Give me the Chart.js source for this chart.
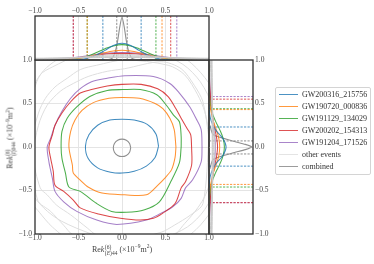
<!DOCTYPE html>
<html><head><meta charset="utf-8">
<script src="https://cdn.jsdelivr.net/npm/chart.js@4.4.1/dist/chart.umd.min.js"></script>
<style>
html,body{margin:0;padding:0;background:#fff;width:374px;height:264px;overflow:hidden;font-family:"Liberation Serif",serif;}
canvas{position:absolute;left:0;top:0;}
#legend{position:absolute;left:275px;top:87px;width:96px;height:88px;border:1px solid #d4d4d4;border-radius:2px;box-sizing:border-box;background:transparent;will-change:transform;}
.li{position:absolute;left:0;width:100%;height:12px;font-size:8px;color:#333;line-height:12px;white-space:nowrap;}
.sw{position:absolute;left:3px;width:19px;top:5px;height:1.3px;}
.tx{position:absolute;left:26px;top:0;color:#333;}
.ttl{position:absolute;white-space:nowrap;font-size:8px;color:#444;line-height:10px;will-change:transform;}
.ss{display:inline-flex;flex-direction:column;vertical-align:middle;font-size:5.5px;line-height:5.5px;margin-left:0.5px;}
sup{font-size:5.5px;line-height:0;}
</style>
</head><body>
<canvas id="cMain" width="374" height="264"></canvas>
<canvas id="cTop" width="374" height="264"></canvas>
<canvas id="cRight" width="374" height="264"></canvas>
<div id="legend"></div>
<div class="ttl" id="xt" style="left:122px;top:250px;transform:translate(-50%,-50%);">Re<i>k</i><span class="ss"><span>(6)</span><span>(<i>E</i>)44</span></span> (×10<sup>−9</sup>m<sup>2</sup>)</div>
<div class="ttl" id="yt" style="left:11px;top:138px;transform:translate(-50%,-50%) rotate(-90deg);">Re<i>k</i><span class="ss"><span>(6)</span><span>(<i>I</i>)044</span></span> (×10<sup>−9</sup>m<sup>2</sup>)</div>
<script>
// ---------------- DATA ----------------
const eventNames  = ['GW200316_215756','GW190720_000836','GW191129_134029','GW200202_154313','GW191204_171526'];
const eventColors = ['#1f77b4','#ff7f0e','#2ca02c','#d62728','#9467bd'];
const otherLabel = 'other events', combinedLabel = 'combined';
const otherColor = '#dedede', combinedColor = '#8f8f8f';
const tickValues = [-1.0,-0.5,0.0,0.5,1.0];

// 90% credible contours in the (x, y) plane, points read around each loop
const contourBlue = [[0.42,0.01],[0.39,0.15],[0.29,0.26],[0.14,0.31],[0.0,0.32],[-0.14,0.31],[-0.28,0.25],[-0.38,0.14],[-0.42,0.01],[-0.39,-0.13],[-0.28,-0.24],[-0.13,-0.29],[0.0,-0.30],[0.14,-0.28],[0.28,-0.22],[0.38,-0.12]];
const contourOrange = [[0.62,0.0],[0.60,0.20],[0.55,0.33],[0.47,0.44],[0.38,0.50],[0.20,0.56],[0.0,0.57],[-0.15,0.56],[-0.33,0.51],[-0.46,0.42],[-0.54,0.31],[-0.59,0.18],[-0.61,0.0],[-0.57,-0.21],[-0.56,-0.30],[-0.48,-0.38],[-0.39,-0.46],[-0.23,-0.53],[0.03,-0.55],[0.28,-0.55],[0.41,-0.44],[0.49,-0.36],[0.57,-0.26],[0.61,-0.12]];
const contourGreen = [[0.68,0.0],[0.68,0.12],[0.66,0.29],[0.59,0.37],[0.51,0.48],[0.40,0.60],[0.21,0.66],[0.01,0.66],[-0.17,0.65],[-0.37,0.58],[-0.52,0.46],[-0.63,0.33],[-0.69,0.18],[-0.70,0.0],[-0.69,-0.13],[-0.65,-0.30],[-0.61,-0.46],[-0.48,-0.51],[-0.29,-0.65],[-0.12,-0.74],[0.05,-0.75],[0.26,-0.72],[0.43,-0.63],[0.56,-0.40],[0.66,-0.18]];
const contourRed = [[0.80,0.0],[0.79,0.14],[0.75,0.21],[0.68,0.33],[0.62,0.44],[0.53,0.58],[0.41,0.67],[0.22,0.72],[0.0,0.72],[-0.17,0.70],[-0.35,0.66],[-0.48,0.62],[-0.59,0.52],[-0.69,0.39],[-0.77,0.25],[-0.80,0.14],[-0.84,0.0],[-0.82,-0.13],[-0.79,-0.28],[-0.77,-0.44],[-0.67,-0.51],[-0.56,-0.61],[-0.48,-0.70],[-0.27,-0.77],[-0.02,-0.82],[0.21,-0.84],[0.36,-0.82],[0.47,-0.76],[0.61,-0.65],[0.68,-0.47],[0.73,-0.40],[0.80,-0.21]];
const contourPurple = [[0.92,0.0],[0.91,0.20],[0.85,0.33],[0.78,0.46],[0.66,0.62],[0.55,0.73],[0.36,0.81],[0.03,0.82],[-0.17,0.79],[-0.35,0.75],[-0.48,0.67],[-0.59,0.56],[-0.69,0.41],[-0.77,0.25],[-0.82,0.10],[-0.86,0.0],[-0.84,-0.17],[-0.80,-0.36],[-0.77,-0.51],[-0.67,-0.63],[-0.52,-0.74],[-0.29,-0.84],[-0.06,-0.89],[0.28,-0.84],[0.45,-0.76],[0.58,-0.69],[0.68,-0.59],[0.73,-0.47],[0.81,-0.38],[0.91,-0.17]];
const contourCombined = [[0.10,-0.01],[0.087,0.04],[0.05,0.077],[0.0,0.09],[-0.05,0.077],[-0.087,0.04],[-0.10,-0.01],[-0.087,-0.06],[-0.05,-0.097],[0.0,-0.11],[0.05,-0.097],[0.087,-0.06]];
const contourOtherA = [[1.00,0.10],[0.93,0.52],[0.83,0.71],[0.68,0.90],[0.45,0.98],[0.03,0.90],[-0.17,0.87],[-0.39,0.81],[-0.56,0.73],[-0.71,0.64],[-0.86,0.48],[-0.96,0.25],[-1.02,-0.10],[-0.94,-0.47],[-0.86,-0.55],[-0.75,-0.67],[-0.59,-0.78],[-0.40,-0.93],[-0.29,-1.01],[0.10,-1.05],[0.45,-0.98],[0.60,-0.90],[0.79,-0.78],[0.93,-0.65]];
const contourOtherB = [[1.04,0.0],[1.00,0.18],[0.95,0.41],[0.87,0.60],[0.72,0.83],[0.53,0.94],[0.03,1.00],[-0.29,0.94],[-0.48,0.89],[-0.63,0.79],[-0.77,0.69],[-0.88,0.56],[-0.96,0.39],[-1.05,0.0],[-0.97,-0.61],[-0.82,-0.74],[-0.67,-0.90],[-0.56,-1.01],[-0.10,-1.12],[0.53,-1.07],[0.72,-0.88],[0.87,-0.70],[0.96,-0.55],[1.02,-0.36]];
const contourOtherC = [[1.15,0.0],[1.05,0.45],[0.90,0.75],[0.70,0.95],[0.40,1.08],[0.0,1.12],[-0.50,1.05],[-0.80,0.92],[-0.94,0.83],[-1.05,0.60],[-1.15,0.0],[-1.05,-0.50],[-0.90,-0.70],[-0.70,-0.85],[-0.35,-1.00],[0.0,-1.10],[0.45,-1.05],[0.75,-0.92],[0.95,-0.72],[1.10,-0.40]];
const contourOtherD = [[1.25,0.0],[1.10,0.55],[0.95,0.80],[0.75,1.00],[0.45,1.15],[0.0,1.20],[-0.45,1.15],[-0.75,1.00],[-0.90,0.88],[-0.98,0.75],[-1.20,0.0],[-1.10,-0.55],[-0.95,-0.75],[-0.80,-0.92],[-0.55,-1.10],[0.0,-1.20],[0.55,-1.15],[0.85,-0.95],[1.05,-0.70],[1.20,-0.40]];
const eventContours = [contourBlue, contourOrange, contourGreen, contourRed, contourPurple];
const otherContours = [contourOtherA, contourOtherB, contourOtherC, contourOtherD];

// marginal densities (normalised to the combined peak) on a common grid
const margGrid = [-1.0,-0.8,-0.6,-0.5,-0.4,-0.3,-0.2,-0.1,0.0,0.1,0.2,0.3,0.4,0.5,0.6,0.8,1.0];
const topBlue   = [0,0,0,0.01,0.04,0.11,0.22,0.34,0.39,0.34,0.22,0.11,0.04,0.01,0,0,0];
const topOrange = [0,0,0.01,0.03,0.07,0.12,0.17,0.21,0.23,0.21,0.17,0.12,0.07,0.03,0.01,0,0];
const topGreen  = [0,0,0.015,0.04,0.09,0.17,0.26,0.33,0.36,0.33,0.26,0.17,0.09,0.04,0.015,0,0];
const topRed    = [0,0.01,0.034,0.055,0.08,0.108,0.135,0.15,0.155,0.15,0.135,0.108,0.08,0.055,0.034,0.01,0];
const topPurple = [0.003,0.015,0.045,0.07,0.10,0.13,0.155,0.17,0.175,0.17,0.155,0.13,0.10,0.07,0.045,0.015,0.003];
const rightBlue   = [0,0,0,0,0.01,0.05,0.15,0.32,0.40,0.32,0.15,0.05,0.01,0,0,0,0];
const rightOrange = [0,0,0.005,0.02,0.05,0.10,0.17,0.23,0.25,0.23,0.17,0.10,0.05,0.02,0.005,0,0];
const rightGreen  = [0,0,0.01,0.03,0.07,0.15,0.25,0.33,0.36,0.33,0.25,0.15,0.07,0.03,0.01,0,0];
const rightRed    = [0,0.01,0.03,0.05,0.07,0.10,0.14,0.18,0.20,0.18,0.14,0.10,0.07,0.05,0.03,0.01,0];
const rightPurple = [0.005,0.015,0.035,0.05,0.07,0.09,0.11,0.14,0.15,0.14,0.11,0.09,0.07,0.05,0.035,0.015,0.005];
const topOthers = [
  [0.02,0.03,0.05,0.06,0.07,0.08,0.09,0.095,0.10,0.095,0.09,0.08,0.07,0.06,0.05,0.03,0.02],
  [0.03,0.04,0.05,0.055,0.06,0.065,0.07,0.072,0.073,0.072,0.07,0.065,0.06,0.055,0.05,0.04,0.03],
  [0.01,0.02,0.04,0.06,0.08,0.10,0.115,0.125,0.13,0.125,0.115,0.10,0.08,0.06,0.04,0.02,0.01],
  [0.04,0.045,0.05,0.05,0.055,0.055,0.06,0.06,0.06,0.06,0.06,0.055,0.055,0.05,0.05,0.045,0.04]
];
const rightOthers = [
  [0.05,0.06,0.07,0.075,0.08,0.085,0.09,0.095,0.10,0.095,0.09,0.085,0.08,0.075,0.07,0.06,0.05],
  [0.07,0.075,0.08,0.08,0.085,0.085,0.09,0.09,0.09,0.09,0.09,0.085,0.085,0.08,0.08,0.075,0.07],
  [0.03,0.045,0.06,0.07,0.085,0.10,0.115,0.13,0.14,0.13,0.115,0.10,0.085,0.07,0.06,0.045,0.03],
  [0.06,0.065,0.065,0.07,0.07,0.07,0.075,0.075,0.075,0.075,0.075,0.07,0.07,0.07,0.065,0.065,0.06]
];
const combGridTop = [-0.2,-0.12,-0.08,-0.05,-0.025,0.0,0.025,0.05,0.08,0.12,0.2];
const combTop     = [0,0.03,0.18,0.45,0.78,1.0,0.78,0.45,0.18,0.03,0];
const combGridRight = [-0.25,-0.14,-0.07,-0.03,0.0,0.03,0.07,0.14,0.25];
const combRight     = [0.02,0.10,0.55,0.85,1.0,0.85,0.55,0.10,0.02];
// 90% one-dimensional bounds
const topLo   = [-0.22,-0.40,-0.40,-0.56,-0.56];
const topHi   = [0.22,0.46,0.39,0.56,0.63];
const rightLo = [-0.22,-0.43,-0.46,-0.64,-0.64];
const rightHi = [0.23,0.43,0.44,0.55,0.58];
const combTopBounds   = [-0.06,0.06];
const combRightBounds = [-0.08,0.07];

// ---------------- CHARTS ----------------
const FONT = {family:"'Liberation Serif', serif", size:7.5};
const TICKC = '#444';
const fmt = v => (v < 0 ? '\u2212' : '') + Math.abs(v).toFixed(1);
const gridC = c => (Math.abs(c.tick.value) > 0.99 ? 'rgba(0,0,0,0)' : '#e4e4e4');
const frame = {id:'frame', afterDraw(chart){
  const {ctx, chartArea:a} = chart; ctx.save();
  ctx.strokeStyle = '#2e2e2e'; ctx.lineWidth = 1.3;
  ctx.strokeRect(a.left, a.top, a.right - a.left, a.bottom - a.top); ctx.restore(); }};
const alpha = (hex, a) => { const n = parseInt(hex.slice(1),16); return `rgba(${n>>16},${(n>>8)&255},${n&255},${a})`; };
const ds = (pts, color, w, extra) => Object.assign({data: pts, borderColor: color, borderWidth: w, pointRadius: 0, showLine: true, fill: false, tension: 0.3}, extra || {});
const loop = c => c.concat([c[0]]).map(p => ({x: p[0], y: p[1]}));
const valScale = (pos, fitKey, fitVal, pad) => ({
  type:'linear', position: pos, min:-1, max:1,
  ticks:{stepSize:0.5, callback: fmt, font: FONT, color: TICKC, padding: pad, maxRotation:0, autoSkip:false},
  grid:{color: gridC, drawTicks:false, lineWidth:1}, border:{display:false},
  afterFit: s => { s[fitKey] = fitVal; }
});
const base = {type:'scatter', plugins:[frame]};
const baseOpts = {responsive:false, animation:false, events:[], devicePixelRatio:1,
  plugins:{legend:{display:false}, tooltip:{enabled:false}}};

// Main panel
const mainSets = [];
otherContours.forEach(c => mainSets.push(ds(loop(c), otherColor, 1)));
eventContours.forEach((c,i) => mainSets.push(ds(loop(c), alpha(eventColors[i],0.85), 1.05)));
mainSets.push(ds(loop(contourCombined), combinedColor, 1.1));
new Chart(document.getElementById('cMain'), Object.assign({}, base, {
  data:{datasets: mainSets},
  options: Object.assign({}, baseOpts, {
    layout:{padding:{left:5, right:165, top:60, bottom:16}},
    scales:{ x: valScale('bottom','height',14,0), y: valScale('left','width',30,3) }
  })
}));

// Top marginal panel
const topSets = [];
topOthers.forEach(m => topSets.push(ds(margGrid.map((x,i)=>({x, y:m[i]})), '#c8c8c8', 1, {tension:0.4})));
[topBlue, topOrange, topGreen, topRed, topPurple].forEach((m,i) =>
  topSets.push(ds(margGrid.map((x,j)=>({x, y:m[j]})), alpha(eventColors[i],0.85), 1.05, {tension:0.4})));
const vline = (v, color) => ds([{x:v,y:0},{x:v,y:1.1}], color, 1, {borderDash:[2.2,1.3], tension:0});
topLo.forEach((v,i) => topSets.push(vline(v, alpha(eventColors[i],0.8))));
topHi.forEach((v,i) => topSets.push(vline(v, alpha(eventColors[i],0.8))));
combTopBounds.forEach(v => topSets.push(vline(v, combinedColor)));
topSets.push(ds(combGridTop.map((x,i)=>({x, y:combTop[i]})), combinedColor, 1.1, {tension:0.25}));
new Chart(document.getElementById('cTop'), Object.assign({}, base, {
  data:{datasets: topSets},
  options: Object.assign({}, baseOpts, {
    layout:{padding:{left:35, right:165, top:2, bottom:204}},
    scales:{ x: valScale('top','height',14,0),
             y:{type:'linear', display:false, min:0, max:1.03} }
  })
}));

// Right marginal panel
const rightSets = [];
rightOthers.forEach(m => rightSets.push(ds(margGrid.map((y,i)=>({x:m[i], y})), '#c8c8c8', 1, {tension:0.4})));
[rightBlue, rightOrange, rightGreen, rightRed, rightPurple].forEach((m,i) =>
  rightSets.push(ds(margGrid.map((y,j)=>({x:m[j], y})), alpha(eventColors[i],0.85), 1.05, {tension:0.4})));
const hline = (v, color) => ds([{x:0,y:v},{x:1.1,y:v}], color, 1, {borderDash:[2.2,1.3], tension:0});
rightLo.forEach((v,i) => rightSets.push(hline(v, alpha(eventColors[i],0.8))));
rightHi.forEach((v,i) => rightSets.push(hline(v, alpha(eventColors[i],0.8))));
combRightBounds.forEach(v => rightSets.push(hline(v, combinedColor)));
rightSets.push(ds(combGridRight.map((y,i)=>({x:combRight[i], y})), combinedColor, 1.1, {tension:0.2}));
new Chart(document.getElementById('cRight'), Object.assign({}, base, {
  data:{datasets: rightSets},
  options: Object.assign({}, baseOpts, {
    layout:{padding:{left:209, right:91, top:60, bottom:30}},
    scales:{ x:{type:'linear', display:false, min:0, max:1.03},
             y: valScale('right','width',30,2) }
  })
}));

// Legend
const lg = document.getElementById('legend');
const entries = eventNames.map((n,i)=>[n, alpha(eventColors[i],0.8)]).concat([[otherLabel, '#e4e4e4'],[combinedLabel, '#9c9c9c']]);
entries.forEach((e,i) => {
  const d = document.createElement('div'); d.className = 'li'; d.style.top = (1 + 12*i) + 'px';
  const sw = document.createElement('div'); sw.className = 'sw'; sw.style.background = e[1];
  const tx = document.createElement('span'); tx.className = 'tx'; tx.textContent = e[0];
  d.appendChild(sw); d.appendChild(tx); lg.appendChild(d);
});
</script>
</body></html>
